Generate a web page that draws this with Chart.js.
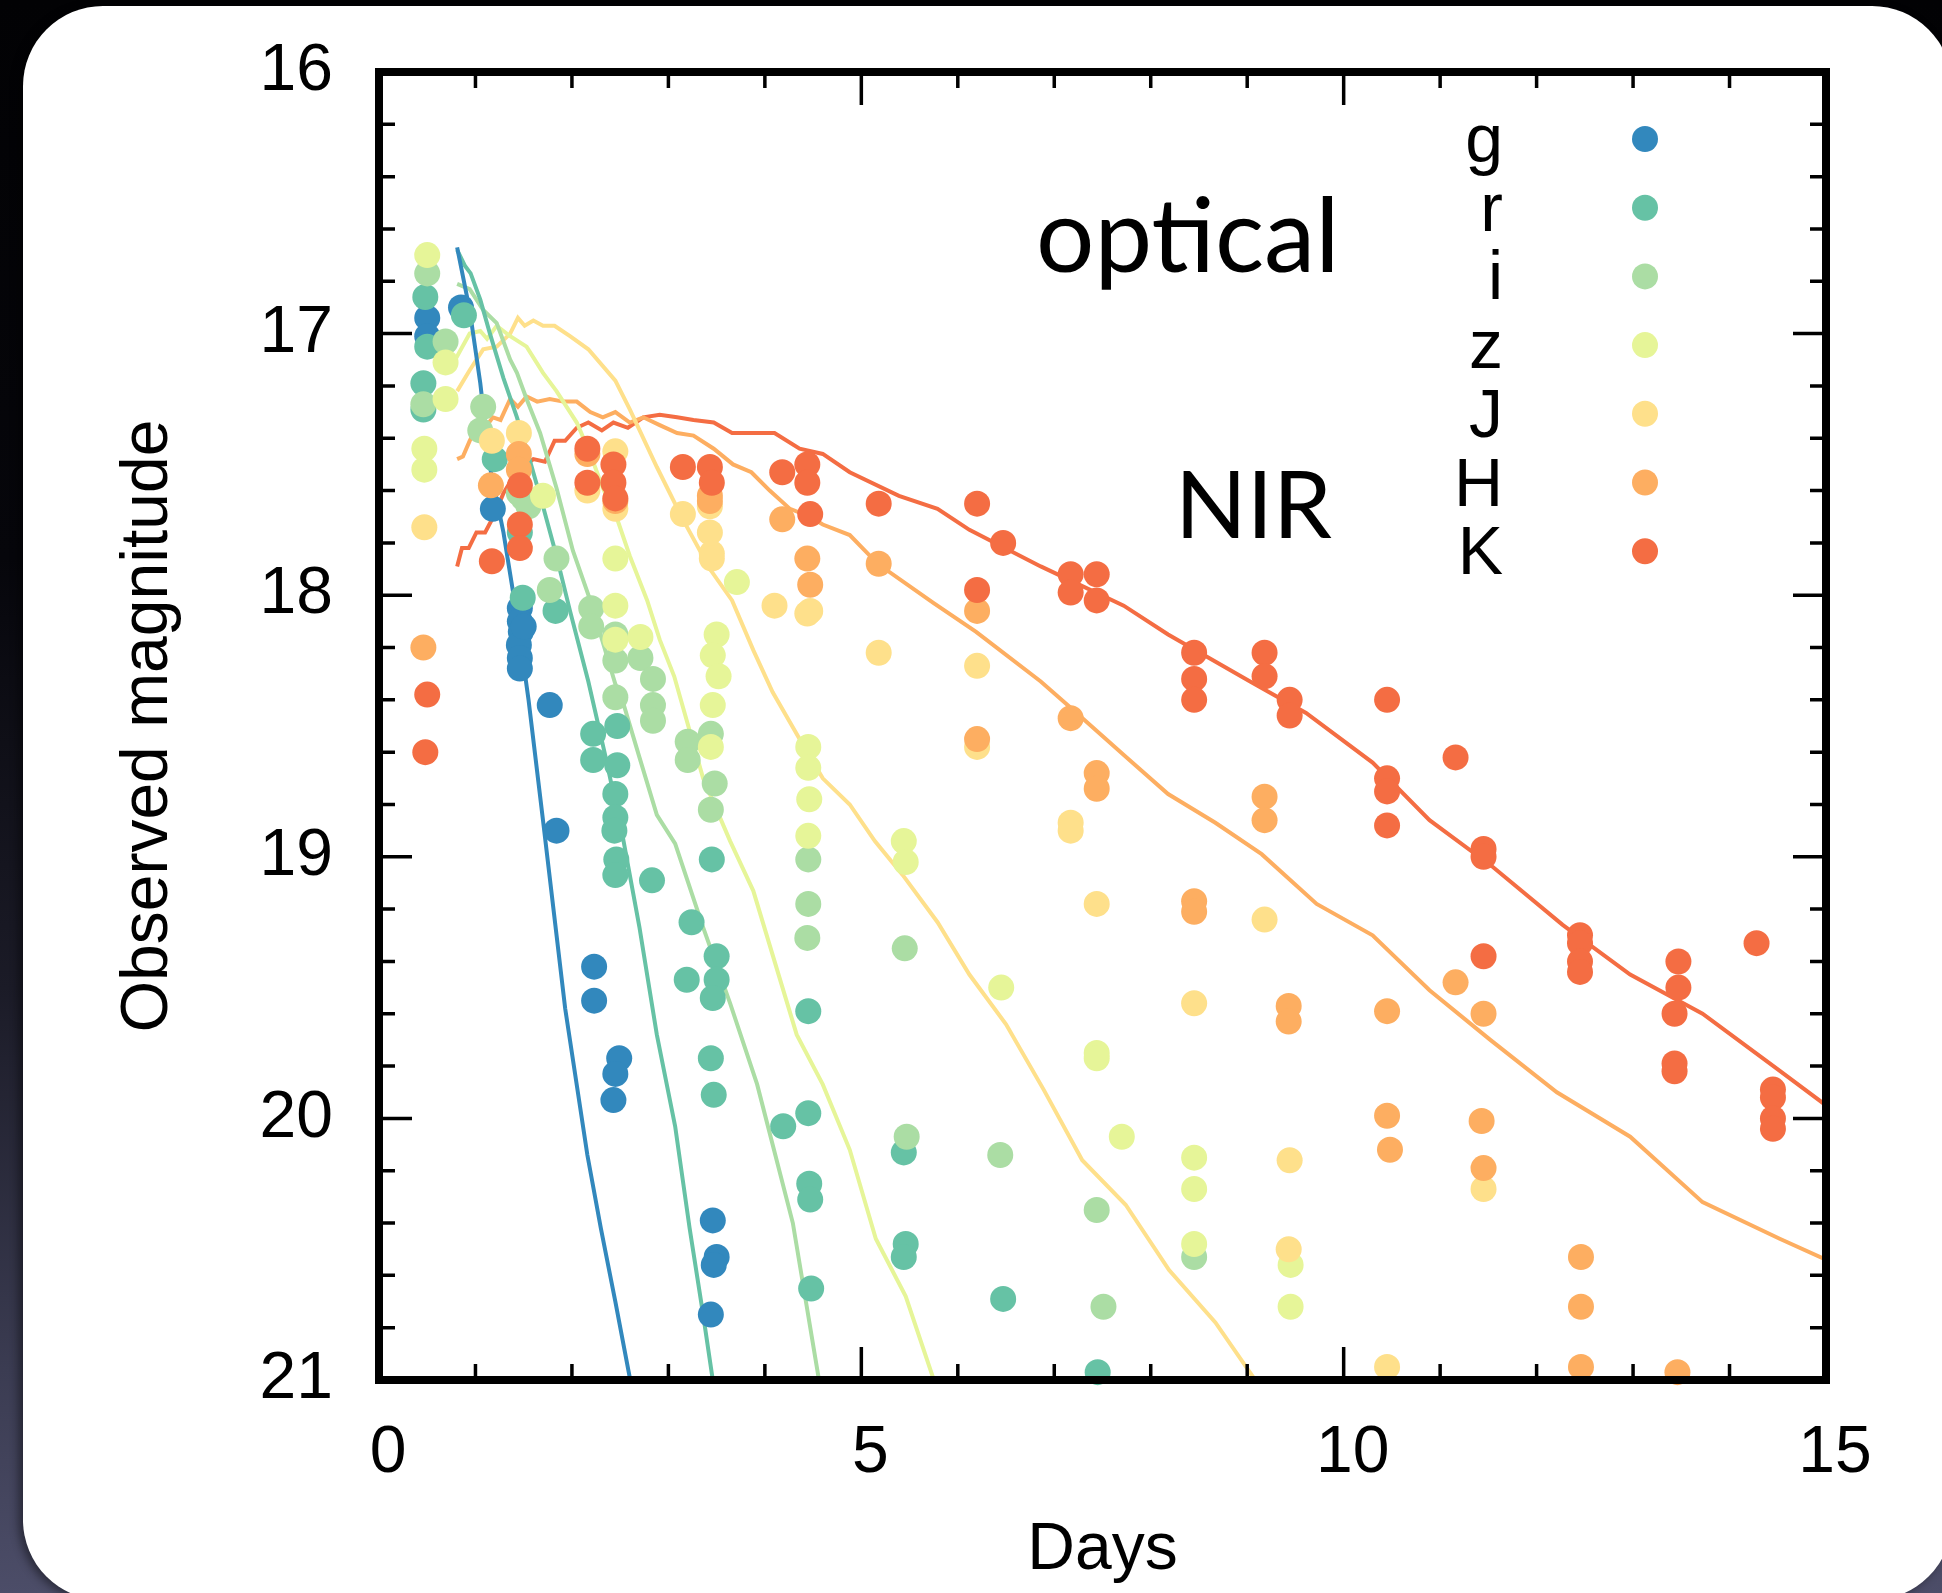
<!DOCTYPE html>
<html lang="en">
<head>
    <meta charset="UTF-8">
    <title>Observed magnitude</title>
    <script src="https://cdn.jsdelivr.net/npm/chart.js"></script>
    <style>
        html, body { margin: 0; padding: 0; overflow: hidden; }
        body {
            width: 1942px; height: 1593px; position: relative;
            background: linear-gradient(180deg, #020204 0%, #06060b 35%, #1b1b27 62%, #3b3c52 86%, #4c4d68 100%);
        }
        .panel {
            position: absolute; left: 23px; top: 6px; width: 1929px; height: 1594px;
            background: #fff; border-radius: 80px;
            box-shadow: -4px 2px 10px rgba(0, 0, 0, 0.45);
        }
        #lc { position: absolute; left: 0; top: 0; }
    </style>
</head>
<body>
    <div class="panel"></div>
    <canvas id="lc" width="1942" height="1593"></canvas>

    <script>
        // bands and colours
        const bands = ['g', 'r', 'i', 'z', 'J', 'H', 'K'];
        const colours = ['#3288bd', '#66c2a5', '#abdda4', '#e6f598', '#fee08b', '#fdae61', '#f46d43'];

        // axis ticks
        const dayTicks = [0, 5, 10, 15];
        const magTicks = [16, 17, 18, 19, 20, 21];

        // observed points [day, magnitude]
        const gObs = [[0.50,16.94],[0.50,17.01],[0.85,16.90],[1.18,17.67],[1.46,18.05],[1.46,18.10],[1.47,18.14],[1.45,18.19],[1.46,18.24],[1.46,18.28],[1.50,18.12],[1.77,18.42],[1.84,18.90],[2.23,19.42],[2.23,19.55],[2.49,19.77],[2.45,19.83],[2.43,19.93],[3.46,20.39],[3.50,20.53],[3.47,20.56],[3.44,20.75]];
        const rObs = [[0.48,16.86],[0.50,17.05],[0.46,17.19],[0.46,17.29],[0.88,16.93],[1.20,17.48],[1.46,17.76],[1.49,18.01],[1.83,18.06],[2.22,18.53],[2.22,18.63],[2.47,18.50],[2.47,18.65],[2.45,18.76],[2.45,18.85],[2.44,18.90],[2.46,19.01],[2.45,19.07],[2.83,19.09],[3.24,19.25],[3.19,19.47],[3.45,19.01],[3.50,19.38],[3.50,19.47],[3.46,19.54],[3.44,19.77],[3.47,19.91],[4.19,20.03],[4.45,19.59],[4.45,19.98],[4.46,20.25],[4.47,20.31],[4.48,20.65],[5.44,20.13],[5.46,20.48],[5.44,20.53],[6.47,20.69],[7.45,20.97]];
        const iObs = [[0.50,16.77],[0.46,17.27],[0.69,17.03],[1.08,17.28],[1.05,17.37],[1.45,17.61],[1.50,17.63],[1.55,17.66],[1.77,17.98],[1.84,17.86],[2.20,18.05],[2.20,18.12],[2.45,18.15],[2.45,18.25],[2.45,18.39],[2.71,18.24],[2.84,18.32],[2.84,18.42],[2.84,18.48],[3.20,18.56],[3.20,18.63],[3.44,18.53],[3.48,18.72],[3.44,18.82],[4.45,19.01],[4.45,19.18],[4.44,19.31],[5.45,19.35],[5.47,20.07],[6.44,20.14],[7.44,20.35],[7.51,20.72],[8.45,20.53]];
        const zObs = [[0.50,16.70],[0.47,17.44],[0.47,17.52],[0.69,17.11],[0.69,17.25],[1.70,17.62],[2.45,17.86],[2.45,18.04],[2.45,18.17],[2.71,18.16],[3.50,18.15],[3.46,18.23],[3.52,18.31],[3.46,18.42],[3.44,18.58],[3.71,17.95],[4.45,18.58],[4.45,18.66],[4.46,18.78],[4.45,18.92],[5.44,18.94],[5.46,19.02],[6.45,19.50],[7.44,19.75],[7.44,19.77],[7.70,20.07],[8.45,20.15],[8.45,20.27],[8.45,20.48],[9.45,20.56],[9.45,20.72]];
        const JObs = [[0.47,17.74],[1.17,17.41],[1.45,17.38],[2.16,17.60],[2.45,17.45],[2.45,17.67],[3.15,17.69],[3.43,17.66],[3.43,17.76],[3.45,17.84],[3.45,17.86],[4.10,18.04],[4.44,18.07],[4.47,18.06],[5.18,18.22],[6.20,18.27],[6.20,18.58],[7.17,18.87],[7.17,18.90],[7.44,19.18],[8.45,19.56],[9.18,19.24],[9.44,20.16],[9.43,20.50],[10.45,20.95],[11.45,20.27]];
        const HObs = [[0.46,18.20],[1.16,17.58],[1.45,17.46],[1.45,17.52],[2.16,17.46],[2.45,17.64],[3.43,17.62],[3.43,17.64],[4.18,17.71],[4.44,17.86],[4.47,17.96],[5.18,17.88],[6.20,18.06],[6.20,18.55],[7.17,18.47],[7.44,18.68],[7.44,18.74],[8.45,19.17],[8.45,19.21],[9.18,18.77],[9.18,18.86],[9.43,19.57],[9.43,19.63],[10.45,19.59],[10.45,19.99],[10.48,20.12],[11.16,19.48],[11.45,19.60],[11.43,20.01],[11.45,20.19],[12.46,20.53],[12.46,20.72],[12.46,20.95],[13.46,20.97]];
        const KObs = [[0.50,18.38],[0.48,18.60],[1.17,17.87],[1.46,17.58],[1.46,17.73],[1.46,17.82],[2.16,17.44],[2.16,17.57],[2.43,17.50],[2.43,17.57],[2.45,17.63],[3.15,17.51],[3.43,17.51],[3.45,17.57],[4.18,17.53],[4.44,17.50],[4.44,17.57],[4.47,17.69],[5.18,17.65],[6.20,17.65],[6.20,17.98],[6.47,17.80],[7.17,17.92],[7.17,17.99],[7.44,17.92],[7.44,18.02],[8.45,18.22],[8.45,18.32],[8.45,18.40],[9.18,18.22],[9.18,18.31],[9.44,18.40],[9.44,18.46],[10.45,18.40],[10.45,18.70],[10.45,18.75],[10.45,18.88],[11.16,18.62],[11.45,18.97],[11.45,19.00],[11.45,19.38],[12.45,19.30],[12.45,19.33],[12.45,19.40],[12.45,19.44],[13.47,19.40],[13.47,19.50],[13.43,19.60],[13.43,19.79],[13.43,19.82],[14.28,19.33],[14.45,19.89],[14.45,19.92],[14.45,20.00],[14.45,20.04]];

        // model light curves [day, magnitude]
        const gModel = [[0.81,16.67],[0.94,16.91],[1.05,17.19],[1.15,17.51],[1.29,17.76],[1.43,18.08],[1.55,18.40],[1.70,18.86],[1.93,19.58],[2.16,20.14],[2.30,20.42],[2.45,20.70],[2.63,21.05]];
        const rModel = [[0.81,16.68],[0.89,16.74],[0.95,16.77],[1.05,16.87],[1.15,17.00],[1.29,17.17],[1.43,17.32],[1.56,17.48],[1.70,17.66],[1.84,17.85],[1.98,18.06],[2.17,18.33],[2.35,18.62],[2.53,18.93],[2.70,19.27],[2.88,19.68],[3.07,20.03],[3.22,20.42],[3.36,20.75],[3.48,21.05]];
        const iModel = [[0.81,16.81],[0.94,16.83],[1.08,16.91],[1.22,16.96],[1.36,17.10],[1.43,17.15],[1.53,17.25],[1.67,17.38],[1.84,17.59],[2.01,17.83],[2.19,18.02],[2.32,18.18],[2.45,18.34],[2.53,18.41],[2.70,18.62],[2.88,18.84],[3.07,18.95],[3.36,19.27],[3.64,19.56],[3.92,19.87],[4.29,20.40],[4.57,21.02]];
        const zModel = [[0.79,17.10],[0.94,17.00],[1.05,16.99],[1.12,17.02],[1.22,16.97],[1.36,17.01],[1.53,17.05],[1.70,17.15],[1.84,17.22],[2.05,17.34],[2.19,17.46],[2.32,17.59],[2.47,17.71],[2.60,17.85],[2.78,18.02],[2.91,18.17],[3.06,18.31],[3.36,18.70],[3.64,18.94],[3.88,19.13],[4.33,19.68],[4.60,19.87],[4.88,20.12],[5.15,20.46],[5.46,20.68],[5.77,21.02]];
        const JModel = [[0.81,17.22],[0.94,17.14],[1.08,17.06],[1.22,17.05],[1.36,17.00],[1.44,16.94],[1.51,16.97],[1.60,16.95],[1.70,16.97],[1.82,16.97],[1.98,17.01],[2.17,17.06],[2.45,17.18],[2.60,17.29],[2.88,17.51],[3.15,17.71],[3.43,17.90],[3.66,18.02],[3.88,18.21],[4.08,18.37],[4.36,18.55],[4.60,18.70],[4.88,18.80],[5.14,18.94],[5.43,19.07],[5.79,19.25],[6.12,19.45],[6.50,19.64],[6.89,19.89],[7.29,20.16],[7.74,20.33],[8.19,20.58],[8.67,20.78],[9.12,21.02]];
        const HModel = [[0.81,17.48],[0.87,17.47],[0.94,17.41],[1.01,17.36],[1.10,17.36],[1.18,17.32],[1.26,17.33],[1.36,17.25],[1.44,17.28],[1.53,17.24],[1.64,17.26],[1.77,17.25],[1.91,17.26],[2.05,17.26],[2.19,17.30],[2.32,17.32],[2.45,17.30],[2.60,17.34],[2.74,17.32],[2.91,17.35],[3.09,17.38],[3.26,17.39],[3.47,17.44],[3.67,17.50],[3.86,17.53],[4.05,17.60],[4.26,17.67],[4.47,17.70],[4.60,17.73],[4.88,17.77],[5.17,17.88],[5.75,18.03],[6.19,18.14],[6.86,18.33],[7.17,18.43],[7.75,18.62],[8.18,18.76],[8.67,18.87],[9.15,18.99],[9.72,19.18],[10.30,19.30],[10.89,19.51],[11.52,19.70],[12.21,19.90],[12.97,20.07],[13.72,20.32],[14.52,20.46],[15.00,20.54]];
        const KModel = [[0.81,17.89],[0.86,17.82],[0.93,17.82],[1.01,17.76],[1.10,17.76],[1.20,17.69],[1.29,17.61],[1.39,17.55],[1.53,17.50],[1.60,17.48],[1.72,17.49],[1.82,17.41],[1.93,17.41],[2.05,17.36],[2.17,17.34],[2.31,17.37],[2.43,17.34],[2.58,17.36],[2.74,17.32],[2.91,17.31],[3.09,17.32],[3.26,17.33],[3.47,17.34],[3.66,17.38],[4.10,17.38],[4.36,17.44],[4.60,17.46],[4.88,17.53],[5.39,17.62],[5.79,17.67],[6.12,17.75],[6.86,17.89],[7.72,18.04],[8.18,18.15],[9.03,18.33],[9.61,18.45],[10.30,18.64],[10.89,18.86],[11.55,19.04],[12.27,19.26],[12.97,19.45],[13.72,19.60],[14.49,19.81],[15.00,19.95]];

        const observations = [gObs, rObs, iObs, zObs, JObs, HObs, KObs];
        const models = [gModel, rModel, iModel, zModel, JModel, HModel, KModel];

        const toXY = arr => arr.map(p => ({ x: p[0], y: p[1] }));

        var datasets = [];
        bands.forEach(function (b, k) {
            datasets.push({
                label: b + ' model',
                data: toXY(models[k]),
                showLine: true,
                borderColor: colours[k],
                borderWidth: 4,
                pointRadius: 0,
                clip: 0,
                order: 20
            });
        });
        bands.forEach(function (b, k) {
            datasets.push({
                label: b,
                data: toXY(observations[k]),
                backgroundColor: colours[k],
                borderWidth: 0,
                pointRadius: 13,
                pointHoverRadius: 13,
                clip: false,
                order: 7 - k
            });
        });

        // frame with inside ticks on all four sides
        const frame = {
            id: 'frame',
            afterDatasetsDraw(chart) {
                const ctx = chart.ctx, a = chart.chartArea;
                const x = chart.scales.x, y = chart.scales.y;
                ctx.save();
                ctx.strokeStyle = '#000';
                ctx.lineWidth = 3.5;
                ctx.beginPath();
                for (let d = 1; d < 15; d++) {
                    const px = x.getPixelForValue(d);
                    const len = d % 5 === 0 ? 33 : 16;
                    ctx.moveTo(px, a.bottom); ctx.lineTo(px, a.bottom - len);
                    ctx.moveTo(px, a.top); ctx.lineTo(px, a.top + len);
                }
                for (let k = 1; k < 25; k++) {
                    const py = y.getPixelForValue(16 + k * 0.2);
                    const len = k % 5 === 0 ? 33 : 16;
                    ctx.moveTo(a.left, py); ctx.lineTo(a.left + len, py);
                    ctx.moveTo(a.right, py); ctx.lineTo(a.right - len, py);
                }
                ctx.stroke();
                ctx.lineWidth = 8;
                ctx.strokeRect(a.left, a.top, a.right - a.left, a.bottom - a.top);
                ctx.restore();
            }
        };

        // band legend and the two labels
        const notes = {
            id: 'notes',
            afterDraw(chart) {
                const ctx = chart.ctx;
                ctx.save();
                ctx.fillStyle = '#000';
                ctx.textBaseline = 'alphabetic';
                ctx.font = '103px Lato';
                ctx.fillText('optical', 1036, 272);
                ctx.font = '94px Lato';
                ctx.fillText('NIR', 1175, 538);
                ctx.font = '68px "Liberation Sans"';
                ctx.textAlign = 'right';
                bands.forEach(function (b, k) {
                    const cy = 139 + k * 68.7;
                    ctx.fillStyle = '#000';
                    ctx.fillText(b, 1503, cy + 23);
                    ctx.fillStyle = colours[k];
                    ctx.beginPath();
                    ctx.arc(1645, cy, 13, 0, Math.PI * 2);
                    ctx.fill();
                });
                ctx.restore();
            }
        };

        Chart.defaults.font.family = '"Liberation Sans", Arial, sans-serif';
        Chart.defaults.color = '#000';

        var ctx = document.getElementById('lc').getContext('2d');
        var lcChart = new Chart(ctx, {
            type: 'scatter',
            data: { datasets: datasets },
            options: {
                responsive: false,
                animation: false,
                devicePixelRatio: 1,
                layout: { padding: { left: 0, right: 116, top: 72, bottom: 0 } },
                plugins: { legend: { display: false }, tooltip: { enabled: false } },
                scales: {
                    x: {
                        type: 'linear', position: 'bottom', min: 0, max: 15,
                        afterBuildTicks: s => { s.ticks = dayTicks.map(v => ({ value: v })); },
                        afterFit: s => { s.height = 213; s.paddingLeft = 0; s.paddingRight = 0; },
                        grid: { display: false, drawTicks: false },
                        border: { display: false },
                        ticks: { font: { size: 66 }, padding: 34, labelOffset: 9, maxRotation: 0 },
                        title: { display: true, text: 'Days', font: { size: 66 }, padding: { top: 0, bottom: 3 } }
                    },
                    y: {
                        type: 'linear', position: 'left', min: 16, max: 21, reverse: true,
                        afterBuildTicks: s => { s.ticks = magTicks.map(v => ({ value: v })); },
                        afterFit: s => { s.width = 379; s.paddingTop = 0; s.paddingBottom = 0; },
                        grid: { display: false, drawTicks: false },
                        border: { display: false },
                        ticks: { font: { size: 66 }, padding: 46 },
                        title: { display: true, text: 'Observed magnitude', font: { size: 66 }, padding: { top: 109, bottom: 0 } }
                    }
                }
            },
            plugins: [frame, notes]
        });
    </script>
</body>
</html>
